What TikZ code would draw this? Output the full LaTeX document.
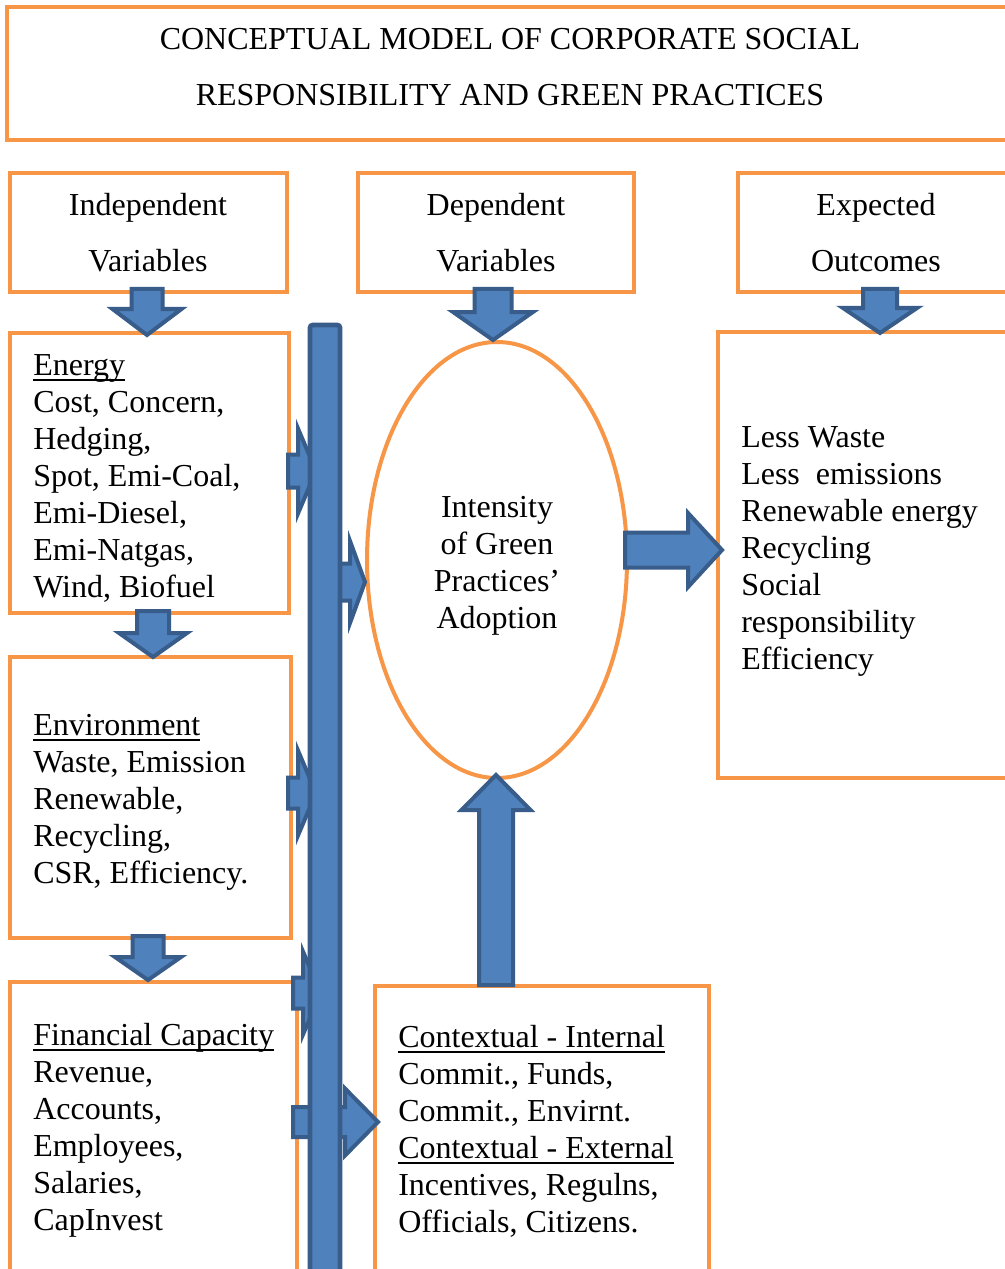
\documentclass[tikz,border=0pt]{standalone}
\usepackage{fontspec}
\setmainfont{Liberation Serif}
\usetikzlibrary{fit,shapes.geometric}
\definecolor{orng}{HTML}{F79646}
\definecolor{bfill}{HTML}{4F81BD}
\definecolor{bline}{HTML}{385D8A}
\newcommand\myul[1]{\setbox0\hbox{#1}\rlap{\rule[-4.5pt]{\wd0}{1.5pt}}\box0}
% horizontal block arrow: tail x, head start x, tip x, y, shaft half, head half
\newcommand\harrow[6]{%
  \path[blockarrow] (#1,#4-#5) -- (#2,#4-#5) -- (#2,#4-#6) -- (#3,#4) -- (#2,#4+#6) -- (#2,#4+#5) -- (#1,#4+#5) -- cycle;}
% vertical block arrow: tail y, head start y, tip y, x, shaft half, head half
\newcommand\varrow[6]{%
  \path[blockarrow] (#4-#5,#1) -- (#4-#5,#2) -- (#4-#6,#2) -- (#4,#3) -- (#4+#6,#2) -- (#4+#5,#2) -- (#4+#5,#1) -- cycle;}
\tikzset{
  obox/.style={draw=orng, line width=3pt, rectangle, inner sep=0pt},
  blockarrow/.style={fill=bfill, draw=bline, line width=3pt, line join=miter},
  bodytxt/.style={inner sep=0pt, font=\fontsize{24}{27.75}\selectfont},
  headtxt/.style={inner sep=0pt, font=\fontsize{24}{41.5}\selectfont},
}
\begin{document}
\begin{tikzpicture}[x=0.75pt,y=-0.75pt]
\useasboundingbox (0,0) rectangle (1005,1269);
\clip (0,0) rectangle (1005,1269);
\fill[white] (0,0) rectangle (1005,1269);
% boxes
\node[obox, fit={(7,7)(1040,140)}] (title) {};
\node[obox, fit={(10,173)(287,292)}] (indep) {};
\node[obox, fit={(358,173)(634,292)}] (dep) {};
\node[obox, fit={(738,173)(1040,292)}] (expect) {};
\node[obox, fit={(10,333)(289,613)}] (energy) {};
\node[obox, fit={(10,657)(291,938)}] (environ) {};
\node[obox, fit={(10,982)(297,1300)}] (finance) {};
\node[obox, fit={(375,986)(709,1300)}] (context) {};
\node[obox, fit={(718,332)(1040,778)}] (outcome) {};
\node[draw=orng, line width=3pt, ellipse, minimum width=195pt, minimum height=327pt, inner sep=0pt] (core) at (497,560) {};
% texts
\node[headtxt, anchor=base] (titlet) at (510,50) {\begin{tabular}[t]{@{}c@{}}CONCEPTUAL MODEL OF CORPORATE SOCIAL\\RESPONSIBILITY AND GREEN PRACTICES\end{tabular}};
\node[headtxt, anchor=base] (indept) at (148,216) {\begin{tabular}[t]{@{}c@{}}Independent\\Variables\end{tabular}};
\node[headtxt, anchor=base] (dept) at (496,216) {\begin{tabular}[t]{@{}c@{}}Dependent\\Variables\end{tabular}};
\node[headtxt, anchor=base] (expectt) at (876,216) {\begin{tabular}[t]{@{}c@{}}Expected\\Outcomes\end{tabular}};
\node[bodytxt, anchor=base west] (energyt) at (33,375) {\begin{tabular}[t]{@{}l@{}}\myul{Energy}\\Cost, Concern,\\Hedging,\\Spot, Emi-Coal,\\Emi-Diesel,\\Emi-Natgas,\\Wind, Biofuel\end{tabular}};
\node[bodytxt, anchor=base west] (environt) at (33,735) {\begin{tabular}[t]{@{}l@{}}\myul{Environment}\\Waste, Emission\\Renewable,\\Recycling,\\CSR, Efficiency.\end{tabular}};
\node[bodytxt, anchor=base west] (financet) at (33,1045) {\begin{tabular}[t]{@{}l@{}}\myul{Financial Capacity}\\Revenue,\\Accounts,\\Employees,\\Salaries,\\CapInvest\end{tabular}};
\node[bodytxt, anchor=base west] (contextt) at (398,1047) {\begin{tabular}[t]{@{}l@{}}\myul{Contextual - Internal}\\Commit., Funds,\\Commit., Envirnt.\\\myul{Contextual - External}\\Incentives, Regulns,\\Officials, Citizens.\end{tabular}};
\node[bodytxt, anchor=base west] (outcomet) at (741,447) {\begin{tabular}[t]{@{}l@{}}Less Waste\\Less\ \ emissions\\Renewable energy\\Recycling\\Social\\responsibility\\Efficiency\end{tabular}};
\node[bodytxt, anchor=base] (coret) at (497,517) {\begin{tabular}[t]{@{}c@{}}Intensity\\of Green\\Practices’\\Adoption\end{tabular}};
% block arrows
\varrow{289}{309}{335}{147}{15.5}{34.5}
\varrow{289}{312}{340}{493}{18.5}{40}
\varrow{289}{308}{333}{880}{17}{37}
\varrow{611}{633}{657}{153}{16}{34}
\varrow{936}{957}{980}{148}{15.5}{33}
\harrow{625}{688}{722}{550}{17.5}{37}
\varrow{985}{810}{775}{496}{17}{34.5}
\harrow{288}{298}{316}{471}{16.5}{42.5}
\harrow{288}{298}{316}{793}{15.5}{42.5}
\harrow{293}{303}{321}{993}{15.5}{41.5}
\harrow{293}{345}{378}{1122}{15}{33.5}
\harrow{330}{350}{365}{582}{18.5}{41}
% vertical bar
\node[fill=bfill, draw=bline, line width=3.5pt, rounded corners=2pt, inner sep=0pt, fit={(310,325)(340,1300)}] (bar) {};
\end{tikzpicture}
\end{document}
